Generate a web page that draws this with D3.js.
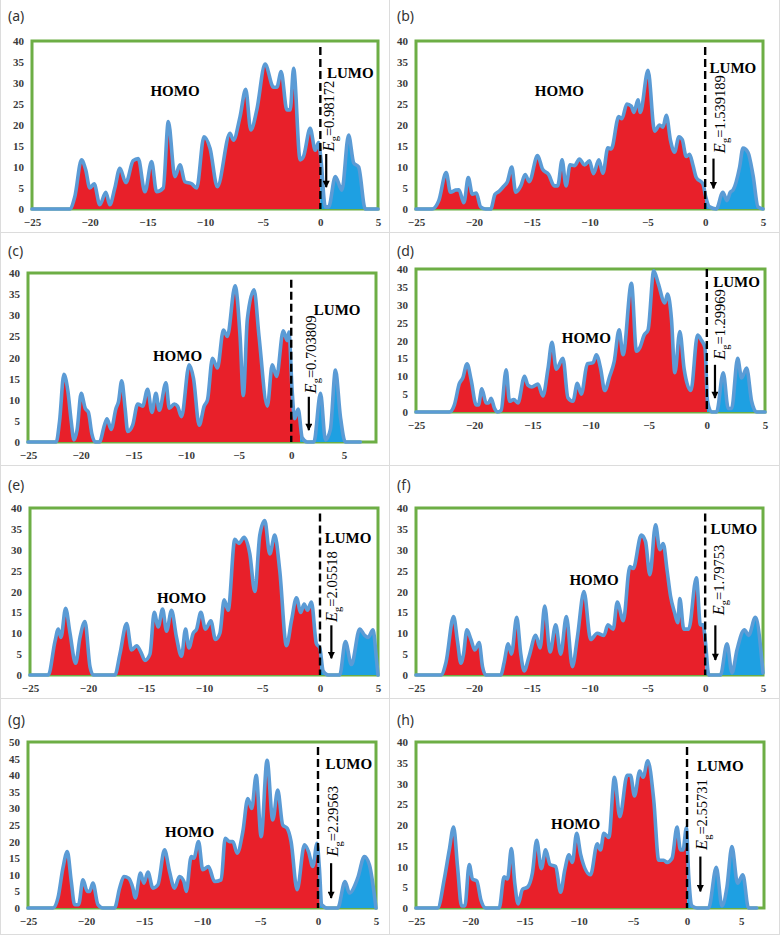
<!DOCTYPE html>
<html><head><meta charset="utf-8">
<script src="https://cdn.jsdelivr.net/npm/d3@7"></script>
<style>body{margin:0;background:#fff} svg{display:block}</style>
</head><body>
<svg id="chart" width="780" height="938"></svg>
<script>
// ---------------- DATA ----------------
const xTicks = [-25, -20, -15, -10, -5, 0, 5];
const yTicks40 = [0, 5, 10, 15, 20, 25, 30, 35, 40];
const yTicks50 = [0, 5, 10, 15, 20, 25, 30, 35, 40, 45, 50];
const panelLabels = ["(a)", "(b)", "(c)", "(d)", "(e)", "(f)", "(g)", "(h)"];
const gapValues = ["0.98172", "1.539189", "0.703809", "1.29969", "2.05518", "1.79753", "2.29563", "2.55731"];

// Density of states: [energy (eV), DOS]
const dosA = [[-25,0],[-21.73,0],[-21.29,2.9],[-20.71,11.7],[-20.34,9.3],[-19.99,5],[-19.61,6],[-19.12,1],[-18.6,4],[-18.25,1],[-17.82,5],[-17.38,9.7],[-16.86,6.3],[-16.23,11.5],[-15.79,12],[-15.21,4.1],[-14.63,11.3],[-14.2,4.1],[-13.62,5],[-13.18,20.8],[-12.61,7.7],[-12.17,10.5],[-11.74,6.5],[-11.16,6],[-10.72,5],[-10.09,17.2],[-9.56,14.4],[-8.93,5.3],[-7.83,18],[-7.54,16.4],[-6.96,22],[-6.47,28.5],[-6.03,18.8],[-5.51,23.6],[-4.79,34.5],[-4.06,29],[-3.77,29],[-3.4,32.7],[-2.9,23.6],[-2.61,23.6],[-2.32,33.5],[-1.75,11.7],[-1.46,12.5],[-0.88,19.2],[-0.44,14],[-0.15,15.8],[0.05,12],[0.43,0.5],[0.72,0.5],[1.3,7.7],[1.87,4.5],[2.45,17.6],[2.89,11],[3.32,10],[3.9,0],[5,0]];
const dosB = [[-25,0],[-23.6,0],[-23.03,2],[-22.39,8.7],[-22.02,4],[-21.58,4.5],[-21.29,4.6],[-20.86,1.5],[-20.48,7.5],[-20.13,3.5],[-19.79,3.8],[-19.41,0.5],[-18.98,0],[-18.54,0],[-18.17,3.5],[-17.82,4.2],[-17.39,5.5],[-17.1,6.5],[-16.72,10],[-16.38,4],[-15.94,5.5],[-15.56,8.2],[-15.21,6.5],[-14.49,12.7],[-14.06,9.5],[-13.53,8.2],[-13.04,5.5],[-12.75,5.5],[-12.37,11.7],[-12.03,5.5],[-11.68,10.5],[-11.3,10.3],[-10.87,11.9],[-10.43,10.5],[-10,11.5],[-9.66,8.4],[-9.19,11.7],[-8.84,8.5],[-8.41,14.6],[-8.12,14.3],[-7.47,22],[-7.2,21.5],[-6.77,25],[-6.39,24.5],[-6.16,23],[-5.81,26],[-5.61,23],[-4.94,33],[-4.37,18.5],[-3.94,20],[-3.65,19.5],[-3.36,22.3],[-2.99,16.2],[-2.65,13.5],[-2.27,17.2],[-1.98,16.5],[-1.64,12.5],[-1.35,13],[-1.06,10.5],[-0.77,7.5],[-0.19,6],[0.04,3],[0.38,0.5],[0.96,0],[1.53,4],[1.88,2],[2.17,4],[2.41,4.5],[2.98,10],[3.27,14.5],[3.7,13.5],[4.14,8],[4.57,0.5],[5,0]];
const dosC = [[-25,0],[-22.32,0],[-22,5],[-21.59,16],[-21.21,12],[-20.9,5],[-20.64,0.5],[-20.33,3],[-19.95,11.5],[-19.57,8],[-19.26,7],[-18.94,2],[-18.62,0],[-18.21,0],[-17.74,4],[-17.49,5.5],[-17.11,3],[-16.64,8],[-16.41,9.5],[-16.1,14.5],[-15.78,8],[-15.53,2.5],[-15.06,4],[-14.58,9],[-14.11,8.5],[-13.64,12.5],[-13.23,7],[-12.85,11.5],[-12.53,7.5],[-11.9,14],[-11.58,8],[-11.11,9],[-10.8,8.5],[-10.42,6],[-9.69,18.3],[-9.28,15],[-8.74,4],[-8.27,8.5],[-7.95,10],[-7.48,19.8],[-7.01,17.5],[-6.44,26.5],[-6.07,25],[-5.33,37],[-4.86,25],[-4.55,11],[-4.17,29],[-3.53,36],[-3.06,25],[-2.27,8.5],[-1.8,18.3],[-1.39,15.5],[-0.76,26.3],[-0.38,24],[-0.22,26],[0.09,12],[0.32,5.5],[0.66,7.8],[1.04,1],[1.52,0],[2.15,0],[2.78,11.5],[3.25,0.5],[3.72,3],[4.2,17],[4.67,6],[5.14,0],[6.56,0]];
const dosD = [[-25,0],[-22.13,0],[-21.7,2],[-21.27,8],[-20.98,9.5],[-20.61,13.5],[-20.26,9],[-19.83,2],[-19.63,2],[-19.34,6.5],[-18.97,2.5],[-18.77,2.5],[-18.54,3.8],[-18.25,1],[-17.97,0],[-17.68,0.5],[-17.25,11.8],[-16.96,3],[-16.59,3.5],[-16.24,2.5],[-15.67,10],[-15.38,7.5],[-15.04,7],[-14.52,7.8],[-14.09,4.5],[-13.66,12],[-13.31,19.5],[-12.94,12],[-12.37,15],[-11.94,4],[-11.51,3],[-11.13,8],[-10.79,5],[-10.27,13.5],[-9.78,13.8],[-9.5,16],[-9.12,12],[-8.78,6],[-8.35,10],[-7.97,14],[-7.54,23],[-7.2,16],[-6.48,36],[-6.05,17],[-5.76,18],[-5.39,21.5],[-5.05,23],[-4.56,39.5],[-4.18,36],[-3.61,30.5],[-3.38,33],[-3.04,26],[-2.75,11],[-2.32,22.5],[-1.95,12],[-1.37,6],[-0.8,21.5],[-0.45,20],[-0.16,18],[0.06,3],[0.41,0],[0.84,0],[1.41,11],[1.84,1],[2.13,1],[2.65,15],[2.99,9.5],[3.42,12.3],[3.85,3],[4.28,0],[5,0]];
const dosE = [[-25,0],[-23.42,0],[-22.85,8],[-22.56,11],[-22.33,9],[-21.93,16],[-21.55,10],[-21.07,2.8],[-20.69,9],[-20.26,12.8],[-19.83,2],[-19.54,0],[-17.68,0],[-17.25,5],[-16.67,12.3],[-16.24,6],[-15.81,7],[-15.44,5.5],[-15.09,3.5],[-14.66,5],[-14.29,15],[-13.95,11.5],[-13.57,15.8],[-13.23,10.5],[-12.8,15.5],[-12.37,9],[-11.94,4.5],[-11.59,11],[-11.3,6.5],[-10.93,10],[-10.64,11],[-10.27,15],[-9.87,11],[-9.41,13],[-9.01,8.5],[-8.63,10],[-8.26,18],[-7.92,15.5],[-7.34,32.5],[-7,31.5],[-6.54,33],[-6.05,29],[-5.62,20],[-5.19,33.5],[-4.76,37],[-4.33,29],[-3.9,33.5],[-3.47,25],[-2.89,7],[-2.46,13],[-2.03,18.5],[-1.66,15],[-1.37,17],[-1.08,15.5],[-0.74,17.5],[-0.31,7.5],[-0.02,6.5],[0.27,1],[0.7,0],[1.7,0],[2.19,8],[2.71,2.5],[3.42,11],[3.85,9.5],[4.14,9],[4.57,10.8],[4.86,4],[5,0]];
const dosF = [[-25,0],[-22.84,0],[-22.41,3],[-21.75,14],[-21.41,8],[-21.12,2.8],[-20.89,5],[-20.6,10.8],[-20.25,8.5],[-19.91,6],[-19.54,7.8],[-19.25,2],[-18.96,0],[-17.67,0],[-17.38,3],[-17.03,7.5],[-16.75,5],[-16.29,13.8],[-15.94,5],[-15.65,1],[-15.22,4.5],[-14.65,9.5],[-14.27,6.5],[-13.87,16.5],[-13.41,5.5],[-12.92,12],[-12.49,5],[-12,14],[-11.48,2],[-11.05,9],[-10.48,20],[-9.9,8.5],[-9.33,10],[-8.75,9.5],[-8.41,12],[-7.95,11],[-7.6,17.5],[-7.08,13],[-6.51,26],[-6.22,25.5],[-5.53,33.5],[-5.16,32],[-4.78,24],[-4.29,36],[-3.92,30],[-3.63,31.5],[-3.29,25],[-3,19],[-2.65,15],[-2.37,12.5],[-2.19,18.3],[-1.85,11],[-1.42,11],[-0.76,23.3],[-0.41,12],[-0.18,12],[0.02,8],[0.31,0],[1.32,0],[1.89,7.5],[2.32,0.5],[2.75,6],[3.39,10.8],[3.76,9.5],[4.34,13.8],[5,0.5]];
const dosG = [[-25,0],[-22.85,0],[-22.42,3],[-21.99,12],[-21.61,17],[-21.27,8],[-20.98,1],[-20.64,1],[-20.26,8.5],[-19.89,5],[-19.69,5],[-19.4,7.5],[-18.97,1],[-18.54,0],[-17.54,0],[-17.1,6],[-16.73,9.5],[-16.33,9],[-15.96,6],[-15.76,3],[-15.3,10.5],[-15.01,7.5],[-14.66,10.8],[-14.23,6],[-13.8,7],[-13.23,17.5],[-12.8,11],[-12.37,6],[-11.94,9.5],[-11.56,8],[-11.36,5],[-10.93,15.5],[-10.7,15],[-10.3,20],[-9.93,11.5],[-9.44,12.5],[-8.92,8],[-8.35,8.5],[-8,21],[-7.63,20],[-7.34,20],[-6.97,16.5],[-6.48,23],[-6.05,33],[-5.71,30],[-5.33,40],[-4.9,21.5],[-4.39,44.5],[-3.9,26.5],[-3.47,35.5],[-3.04,25],[-2.66,24],[-2.32,20],[-1.8,5.5],[-1.17,19],[-0.82,17],[-0.45,12.5],[-0.08,19.5],[0.12,12],[0.32,1],[0.84,0],[1.7,0],[2.33,8],[2.71,4.5],[3.42,9],[4,15.5],[4.43,13],[5,0]];
const dosH = [[-25,0],[-23,0],[-22.39,7],[-21.93,14],[-21.53,19.5],[-21.17,10],[-20.8,0.5],[-20.49,0.5],[-20.09,10.5],[-19.79,7],[-19.39,6.5],[-19.02,2],[-18.56,0],[-17.33,0],[-16.87,7.5],[-16.56,7],[-16.2,14.3],[-15.89,6],[-15.58,1],[-15.18,4.5],[-14.72,5],[-14.26,8.5],[-13.87,16.3],[-13.44,9.5],[-13.04,14],[-12.64,10.5],[-12.12,10],[-11.66,3.8],[-11.29,9],[-10.89,12.8],[-10.58,11],[-10.18,18],[-9.82,13],[-8.9,8],[-8.28,15.5],[-7.98,14],[-7.67,18],[-7.21,17],[-6.69,31.5],[-6.2,22],[-5.52,32],[-5.21,32],[-4.85,27],[-4.36,33],[-4.05,31.5],[-3.62,35.5],[-3.07,26],[-2.61,11.5],[-2.15,11.5],[-1.84,11],[-1.38,12],[-0.92,19.5],[-0.61,14],[-0.37,14],[-0.06,19.3],[0.15,8],[0.46,0.5],[0.92,0],[1.99,0],[2.7,9.8],[3.22,0.5],[3.68,5],[4.14,14.8],[4.66,6],[5.15,8],[5.67,0],[6.43,0]];
const dosSeries = [dosA, dosB, dosC, dosD, dosE, dosF, dosG, dosH];

// ---------------- LAYOUT (pixel frames, annotation anchors in data units) ----------------
const layout = [
  {L:32, R:378, T:41, B:209, xMax:5,   yMax:40, split:0,    lab:[8,21],   homo:[-12.6,28.2], lumo:[2.6,32.5], eg:[0.77,13.7], arrow:[0.51,13.1,5.2], dashTop:38.6},
  {L:416,R:763, T:41, B:209, xMax:5,   yMax:40, split:0,    lab:[397,21], homo:[-12.6,28.2], lumo:[2.4,33.7], eg:[1.3,13.3],  arrow:[0.72,12,4.9],   dashTop:38.6},
  {L:28, R:376, T:273,B:442, xMax:8.05,yMax:40, split:0.85, lab:[8,256],  homo:[-10.8,20.4], lumo:[4.36,31.3],eg:[1.83,11.5], arrow:[1.67,10.7,2.8], dashTop:38.4},
  {L:416,R:765, T:269,B:412, xMax:5,   yMax:40, split:0.02, lab:[397,256],homo:[-10.36,20.7],lumo:[2.56,36.3],eg:[1.13,14.6], arrow:[0.70,13.2,3.9], dashTop:40},
  {L:30, R:378, T:508,B:675, xMax:5,   yMax:40, split:0.02, lab:[8,490],  homo:[-11.94,18.4],lumo:[2.42,32.8],eg:[1.05,12.7], arrow:[0.98,11.9,4],   dashTop:38.7},
  {L:416,R:763, T:508,B:675, xMax:5,   yMax:40, split:0.02, lab:[397,490],homo:[-9.61,22.8], lumo:[2.47,35],  eg:[1.17,14.3], arrow:[0.88,11.9,3.6], dashTop:38.7},
  {L:28, R:376, T:742,B:908, xMax:5,   yMax:50, split:0.15, lab:[8,725],  homo:[-11.07,23],  lumo:[2.65,43.5],eg:[1.27,15.5], arrow:[1.13,13.5,3],   dashTop:48.5},
  {L:416,R:764, T:742,B:908, xMax:7.1, yMax:40, split:0.02, lab:[397,725],homo:[-10.28,20.4],lumo:[3.07,34.2],eg:[1.38,14],   arrow:[1.23,12.4,4],   dashTop:38.8}
];

const RED = "#E8202A", BLUE_FILL = "#1EA0E2", OUTLINE = "#5B9BD5", GREEN = "#6DAE45";

const svg = d3.select("#chart");
const defs = svg.append("defs");
defs.append("marker").attr("id","arrowhead").attr("viewBox","0 0 10 10")
  .attr("refX",9).attr("refY",5).attr("markerWidth",3.6).attr("markerHeight",3.2)
  .attr("orient","auto").attr("markerUnits","strokeWidth")
  .append("path").attr("d","M0,0 L10,5 L0,10 Z").attr("fill","#000");

// cell separators
const sep = svg.append("g").attr("stroke","#dcdcdc").attr("stroke-width",1);
sep.append("line").attr("x1",389.5).attr("x2",389.5).attr("y1",0).attr("y2",935);
[232.5, 465.5, 698.5, 934.5].forEach(yy => sep.append("line").attr("x1",0).attr("x2",780).attr("y1",yy).attr("y2",yy));
sep.append("line").attr("x1",0.5).attr("x2",0.5).attr("y1",0).attr("y2",935);
sep.append("line").attr("x1",779.5).attr("x2",779.5).attr("y1",0).attr("y2",935);

layout.forEach((p, i) => {
  const data = dosSeries[i];
  const x = d3.scaleLinear().domain([-25, p.xMax]).range([p.L, p.R]);
  const y = d3.scaleLinear().domain([0, p.yMax]).range([p.B, p.T]);
  const g = svg.append("g");

  defs.append("clipPath").attr("id","red"+i).append("rect")
    .attr("x", p.L - 5).attr("y", p.T - 5).attr("width", x(p.split) - p.L + 5).attr("height", p.B - p.T + 10);
  defs.append("clipPath").attr("id","blue"+i).append("rect")
    .attr("x", x(p.split)).attr("y", p.T - 5).attr("width", p.R - x(p.split) + 5).attr("height", p.B - p.T + 10);

  g.append("rect").attr("x", p.L).attr("y", p.T).attr("width", p.R - p.L).attr("height", p.B - p.T)
    .attr("fill","none").attr("stroke", GREEN).attr("stroke-width", 3);

  const area = d3.area().x(d => x(d[0])).y0(y(0)).y1(d => y(d[1])).curve(d3.curveMonotoneX);
  const line = d3.line().x(d => x(d[0])).y(d => y(d[1])).curve(d3.curveMonotoneX);

  g.append("path").datum(data).attr("d", area).attr("fill", RED).attr("clip-path", `url(#red${i})`);
  g.append("path").datum(data).attr("d", area).attr("fill", BLUE_FILL).attr("clip-path", `url(#blue${i})`);
  g.append("path").datum(data).attr("d", line).attr("fill","none").attr("stroke", OUTLINE)
    .attr("stroke-width", 3.6).attr("stroke-linejoin","round").attr("stroke-linecap","round");

  const yTicks = p.yMax === 50 ? yTicks50 : yTicks40;
  const ya = g.append("g").attr("transform", `translate(${p.L},0)`)
    .call(d3.axisLeft(y).tickValues(yTicks).tickSize(0).tickPadding(8));
  const xa = g.append("g").attr("transform", `translate(0,${p.B})`)
    .call(d3.axisBottom(x).tickValues(xTicks).tickSize(0).tickPadding(9));
  [ya, xa].forEach(a => {
    a.attr("font-family", null).attr("font-size", null);
    a.select(".domain").remove();
    a.selectAll("text").style("font-family","'Liberation Serif', 'Times New Roman', serif").style("font-weight","bold")
      .style("font-size", "11px").attr("fill","#3a3a3a");
  });

  g.append("line").attr("x1", x(0)).attr("x2", x(0)).attr("y1", y(p.dashTop)).attr("y2", y(0))
    .attr("stroke","#000").attr("stroke-width",2.4).attr("stroke-dasharray","8,4");

  svg.append("text").attr("x", p.lab[0]).attr("y", p.lab[1]).text(panelLabels[i])
    .attr("font-family","'Noto Sans', sans-serif").attr("font-size",14).attr("fill","#333");

  const lblFont = "'Liberation Serif', 'Times New Roman', serif";
  g.append("text").attr("x", x(p.homo[0])).attr("y", y(p.homo[1])).attr("dy","0.35em")
    .attr("text-anchor","middle").attr("font-family", lblFont).attr("font-weight","bold")
    .attr("font-size",15).text("HOMO");
  g.append("text").attr("x", x(p.lumo[0])).attr("y", y(p.lumo[1])).attr("dy","0.35em")
    .attr("text-anchor","middle").attr("font-family", lblFont).attr("font-weight","bold")
    .attr("font-size",15).text("LUMO");

  const ex = x(p.eg[0]), ey = y(p.eg[1]);
  const t = g.append("text").attr("transform", `translate(${ex},${ey}) rotate(-90)`)
    .attr("dy","0.35em").attr("font-family", lblFont).attr("font-size",14.5).attr("fill","#000");
  t.append("tspan").attr("font-style","italic").attr("font-size",16.5).text("E");
  t.append("tspan").attr("font-size",10.5).attr("dy",4).text("g");
  t.append("tspan").attr("dy",-4).text("=" + gapValues[i]);

  g.append("line").attr("x1", x(p.arrow[0])).attr("x2", x(p.arrow[0]))
    .attr("y1", y(p.arrow[1])).attr("y2", y(p.arrow[2]))
    .attr("stroke","#000").attr("stroke-width",2.2).attr("marker-end","url(#arrowhead)");
});
</script>
</body></html>
